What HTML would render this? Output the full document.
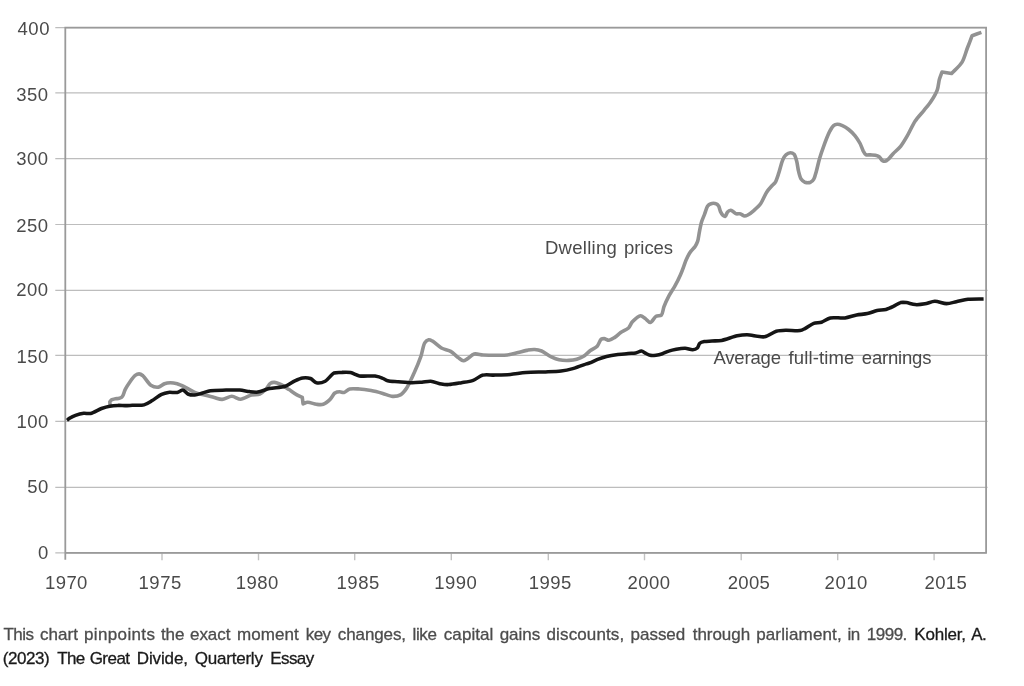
<!DOCTYPE html>
<html><head><meta charset="utf-8"><title>Chart</title>
<style>
html,body{margin:0;padding:0;background:#fff;}
body{width:1024px;height:686px;overflow:hidden;position:relative;font-family:"Liberation Sans",sans-serif;}
svg{position:absolute;left:0;top:0;will-change:transform;}
svg text{font-family:"Liberation Sans",sans-serif;}
.w{position:absolute;font-size:17px;line-height:24px;color:#4c4c4c;-webkit-text-stroke:0.3px #4c4c4c;white-space:nowrap;letter-spacing:0.22px;}
.caption{position:absolute;left:0;top:0;width:1024px;height:686px;margin:0;will-change:transform;}
.w.d{color:#1a1a1a;-webkit-text-stroke:0.3px #1a1a1a;letter-spacing:0.06px;}
</style></head><body>
<svg width="1024" height="686" viewBox="0 0 1024 686">
<line x1="55.3" x2="986" y1="27.7" y2="27.7" stroke="#bdbdbd" stroke-width="1.2"/>
<line x1="55.3" x2="987.6" y1="92.8" y2="92.8" stroke="#bdbdbd" stroke-width="1.2"/>
<line x1="55.3" x2="987.6" y1="158.6" y2="158.6" stroke="#bdbdbd" stroke-width="1.2"/>
<line x1="55.3" x2="987.6" y1="224.5" y2="224.5" stroke="#bdbdbd" stroke-width="1.2"/>
<line x1="55.3" x2="987.6" y1="290.3" y2="290.3" stroke="#bdbdbd" stroke-width="1.2"/>
<line x1="55.3" x2="987.6" y1="355.4" y2="355.4" stroke="#bdbdbd" stroke-width="1.2"/>
<line x1="55.3" x2="987.6" y1="421.4" y2="421.4" stroke="#bdbdbd" stroke-width="1.2"/>
<line x1="55.3" x2="987.6" y1="487.3" y2="487.3" stroke="#bdbdbd" stroke-width="1.2"/>
<line x1="55.3" x2="986" y1="552.8" y2="552.8" stroke="#bdbdbd" stroke-width="1.2"/>
<line x1="162" x2="162" y1="552.7" y2="560.3" stroke="#c2c2c2" stroke-width="1.4"/>
<line x1="258.5" x2="258.5" y1="552.7" y2="560.3" stroke="#c2c2c2" stroke-width="1.4"/>
<line x1="354.7" x2="354.7" y1="552.7" y2="560.3" stroke="#c2c2c2" stroke-width="1.4"/>
<line x1="451.3" x2="451.3" y1="552.7" y2="560.3" stroke="#c2c2c2" stroke-width="1.4"/>
<line x1="548.3" x2="548.3" y1="552.7" y2="560.3" stroke="#c2c2c2" stroke-width="1.4"/>
<line x1="644.5" x2="644.5" y1="552.7" y2="560.3" stroke="#c2c2c2" stroke-width="1.4"/>
<line x1="741.2" x2="741.2" y1="552.7" y2="560.3" stroke="#c2c2c2" stroke-width="1.4"/>
<line x1="837.7" x2="837.7" y1="552.7" y2="560.3" stroke="#c2c2c2" stroke-width="1.4"/>
<line x1="934.1" x2="934.1" y1="552.7" y2="560.3" stroke="#c2c2c2" stroke-width="1.4"/>
<path d="M65.3,559.8 L65.3,27.7 L986.1,27.7 L986.1,552.8 L65.3,552.8" fill="none" stroke="#9a9a9a" stroke-width="1.8" stroke-linejoin="miter"/>
<path transform="translate(0,0.5)" d="M110.3,405.5 C110.2,404.3 109.6,402.3 109.9,401.4 C110.1,400.6 111.2,399.8 111.7,399.2 C112.8,398.9 114.4,398.5 115.5,398.3 C116.6,398.1 118.4,398.0 119.3,397.7 C120.1,397.5 121.2,397.1 121.8,396.6 C122.3,396.1 122.8,395.3 123.2,394.5 C123.8,393.3 124.4,390.5 125.4,388.6 C127.1,385.4 132.8,376.8 135.2,374.9 C136.4,374.0 138.0,373.4 139.1,373.4 C140.2,373.4 141.8,374.4 143.0,375.3 C145.0,376.9 148.3,383.1 150.8,384.7 C152.8,386.0 156.6,386.9 158.6,386.6 C160.4,386.3 162.8,383.9 164.5,383.3 C166.1,382.7 168.7,382.3 170.4,382.3 C172.3,382.3 175.2,382.8 177.2,383.3 C179.4,383.9 182.7,385.5 185.0,386.6 C187.6,387.9 192.0,390.8 194.8,391.9 C197.5,393.0 201.7,393.8 204.5,394.5 C207.3,395.2 211.7,396.3 214.3,397.0 C216.6,397.6 219.8,399.0 222.1,398.9 C224.7,398.8 229.2,395.8 231.9,395.8 C234.5,395.8 238.1,398.9 240.7,398.8 C243.6,398.7 248.5,395.2 251.4,394.5 C253.9,393.9 257.7,394.4 259.8,393.6 C261.7,392.8 264.1,390.6 265.6,389.1 C267.2,387.5 269.0,383.6 270.5,382.7 C271.6,382.0 273.1,381.8 274.4,381.9 C276.1,382.0 279.3,383.3 281.3,384.2 C283.5,385.2 286.9,387.7 289.1,389.1 C291.3,390.6 294.8,393.2 296.9,394.4 C298.5,395.3 300.8,396.2 302.3,396.9 C302.5,398.7 302.9,401.6 303.1,403.4 C304.4,402.9 306.1,401.9 307.6,401.8 C309.7,401.7 314.1,403.5 316.4,403.8 C318.4,404.0 321.4,404.4 323.2,403.8 C325.3,403.1 328.4,400.5 330.1,398.9 C331.8,397.3 333.4,393.4 335.0,392.4 C336.2,391.6 338.5,391.3 339.8,391.3 C341.0,391.3 342.9,392.3 344.1,392.0 C345.6,391.7 347.7,389.0 349.6,388.5 C351.9,387.8 356.5,388.3 359.4,388.5 C362.6,388.7 367.8,389.5 371.1,390.1 C374.4,390.7 379.6,392.1 382.8,393.0 C385.7,393.8 390.0,395.8 392.6,395.9 C394.9,396.0 398.5,395.5 400.4,394.4 C402.4,393.3 404.7,390.4 406.3,388.1 C408.6,384.8 412.0,377.0 414.1,372.5 C416.2,367.9 419.3,360.4 420.9,355.9 C422.3,351.9 423.2,344.5 424.8,342.2 C425.7,340.8 427.5,339.5 428.7,339.3 C429.8,339.1 431.3,340.0 432.6,340.7 C434.7,341.8 438.8,346.0 441.4,347.5 C443.9,348.9 448.3,349.5 450.7,350.9 C453.2,352.3 456.6,356.0 458.6,357.4 C460.1,358.5 462.1,360.2 463.4,360.3 C464.5,360.4 466.1,359.1 467.3,358.4 C469.0,357.4 472.0,354.1 474.2,353.5 C476.4,352.9 480.2,354.3 483.0,354.5 C486.4,354.7 493.0,354.8 496.6,354.8 C499.8,354.8 504.4,354.9 507.4,354.5 C510.5,354.1 515.1,352.8 518.1,352.1 C520.9,351.4 525.4,350.0 527.9,349.6 C530.0,349.2 532.8,348.9 534.7,349.0 C536.7,349.1 539.6,349.7 541.6,350.5 C544.2,351.5 548.6,355.1 551.3,356.4 C553.6,357.5 556.7,358.8 559.1,359.3 C561.7,359.8 566.3,360.0 568.9,359.9 C571.2,359.8 574.6,359.4 576.7,358.8 C578.8,358.2 581.7,357.0 583.6,355.8 C585.6,354.5 588.4,351.5 590.4,350.0 C592.3,348.6 595.7,347.3 597.2,345.7 C598.7,344.1 599.8,339.8 601.1,338.8 C601.9,338.2 603.2,338.0 604.1,338.0 C605.3,338.1 607.6,339.9 609.0,339.8 C610.6,339.7 613.2,337.9 614.8,336.9 C616.5,335.8 618.9,333.3 620.7,332.0 C622.7,330.6 626.8,329.1 628.5,327.5 C630.0,326.0 630.9,322.9 632.4,321.3 C634.2,319.4 638.5,315.3 640.5,315.2 C642.0,315.1 644.0,317.2 645.4,318.1 C646.8,319.1 648.9,322.1 650.3,322.0 C651.9,321.9 654.3,316.8 656.1,315.8 C657.5,315.0 660.3,315.6 661.4,314.6 C662.8,313.3 663.0,308.8 663.9,306.4 C665.0,303.5 667.3,298.6 668.8,295.7 C670.3,292.8 673.1,288.8 674.7,285.9 C676.4,282.8 679.2,277.2 680.5,274.2 C681.6,271.8 682.8,268.5 683.6,266.3 C684.4,264.3 685.3,261.3 686.2,259.3 C687.2,257.0 689.2,253.1 690.6,251.1 C691.8,249.4 694.1,247.5 695.1,246.0 C696.0,244.6 697.0,242.6 697.6,240.9 C698.4,238.6 698.9,233.6 699.5,230.8 C700.0,228.2 700.7,224.3 701.4,221.9 C702.1,219.5 703.7,215.9 704.6,213.6 C705.5,211.3 706.7,206.8 707.8,205.4 C708.4,204.5 709.4,203.8 710.3,203.5 C711.5,203.0 714.8,202.8 716.0,203.2 C717.0,203.5 718.0,204.5 718.6,205.4 C719.4,206.6 719.8,209.7 720.5,211.1 C721.1,212.3 722.2,214.2 723.0,214.9 C723.6,215.4 724.7,216.1 725.2,215.9 C726.0,215.6 726.6,212.6 727.4,211.7 C728.1,210.9 729.7,209.8 730.6,209.8 C731.4,209.8 732.4,210.6 733.2,211.1 C734.1,211.6 735.3,213.0 736.3,213.3 C737.3,213.6 739.0,213.0 740.1,213.3 C741.4,213.6 743.4,215.4 744.6,215.5 C745.6,215.6 746.8,215.0 747.8,214.5 C749.3,213.7 752.4,211.3 754.1,209.8 C755.9,208.2 758.8,205.7 760.4,203.5 C762.4,200.7 764.9,194.2 766.8,191.4 C768.2,189.3 770.6,186.8 771.9,185.3 C772.9,184.1 774.4,183.2 775.3,181.8 C776.5,179.8 777.9,175.1 778.9,172.2 C780.0,168.9 781.5,162.2 782.7,159.5 C783.5,157.7 784.7,155.4 785.9,154.4 C786.9,153.5 789.1,152.3 790.3,152.3 C791.4,152.3 793.2,152.9 794.1,153.8 C795.2,155.0 796.1,158.6 796.7,160.8 C797.4,163.4 797.9,168.3 798.6,170.9 C799.2,173.3 800.0,177.0 801.1,178.6 C801.9,179.8 803.6,181.2 804.9,181.7 C806.3,182.2 809.3,182.2 810.6,181.7 C811.8,181.2 813.1,179.8 813.8,178.6 C814.8,177.0 815.6,173.4 816.3,170.9 C817.2,167.8 818.5,161.7 819.5,158.2 C820.5,154.9 822.0,150.3 823.3,146.8 C824.8,142.6 828.0,134.2 829.7,130.9 C830.8,128.8 832.2,126.2 833.5,125.2 C834.5,124.4 836.1,123.9 837.3,123.8 C838.6,123.7 840.9,124.5 842.4,125.1 C844.1,125.8 847.0,127.6 848.7,129.0 C850.6,130.5 853.5,133.4 855.1,135.4 C856.7,137.4 858.9,140.8 860.1,143.0 C861.2,145.1 862.4,148.9 863.3,150.6 C864.0,151.8 864.8,153.6 865.8,154.1 C866.8,154.7 869.0,154.3 870.3,154.4 C871.7,154.5 874.1,154.4 875.4,154.7 C876.6,155.0 878.2,155.6 879.2,156.3 C880.3,157.1 881.5,159.5 882.4,160.1 C883.1,160.5 884.2,160.9 884.9,160.8 C885.8,160.7 887.2,159.7 888.1,158.9 C889.4,157.8 891.5,154.9 893.1,153.2 C895.0,151.2 898.7,148.3 900.6,145.9 C902.7,143.3 905.5,138.5 907.4,135.2 C909.6,131.4 912.7,124.2 915.2,120.5 C917.5,117.1 921.7,112.7 924.0,109.8 C926.1,107.2 929.1,103.8 930.9,101.0 C932.9,98.0 936.1,92.6 937.3,89.3 C938.4,86.4 938.6,81.8 939.3,79.1 C939.9,76.8 941.2,73.7 942.0,71.5 C944.7,71.9 948.9,72.6 951.6,73.0 C954.6,69.8 959.9,65.2 962.1,61.6 C964.3,58.0 965.9,51.4 967.4,47.5 C968.8,43.9 970.8,38.7 972.1,35.2 C974.7,34.3 978.8,32.8 981.4,31.9" fill="none" stroke="#929292" stroke-width="3.6" stroke-linejoin="round" stroke-linecap="butt"/>
<path transform="translate(0,0.5)" d="M66.9,419.7 C67.6,419.2 68.6,418.4 69.5,417.8 C70.8,417.0 73.6,415.5 75.5,414.8 C77.6,414.0 81.5,413.0 83.7,412.8 C85.7,412.6 88.4,413.4 90.5,413.0 C93.3,412.4 98.6,409.1 101.5,408.0 C104.0,407.1 107.4,406.1 109.7,405.7 C112.0,405.3 115.7,405.0 117.9,404.9 C120.0,404.8 123.0,405.1 125.0,405.1 C127.1,405.1 130.0,404.9 132.3,404.8 C135.2,404.7 141.1,405.2 144.0,404.4 C146.5,403.7 149.5,401.7 151.8,400.3 C154.5,398.7 159.0,395.1 161.6,393.9 C163.6,393.0 166.3,392.2 168.4,391.9 C170.7,391.6 175.0,392.3 177.2,391.9 C179.1,391.5 181.5,389.4 183.0,389.6 C184.5,389.8 186.3,392.8 187.9,393.5 C189.6,394.2 192.8,394.6 194.8,394.5 C197.0,394.4 200.4,393.1 202.6,392.5 C204.8,391.9 207.8,390.6 210.4,390.2 C214.0,389.6 221.7,389.7 226.0,389.6 C230.0,389.5 236.2,389.3 239.7,389.6 C242.7,389.8 246.8,390.8 249.5,391.1 C251.9,391.4 255.3,391.9 257.8,391.6 C260.9,391.2 265.9,388.9 269.5,388.1 C273.6,387.2 281.4,387.1 285.2,385.8 C288.4,384.7 292.3,381.5 294.9,380.3 C297.2,379.2 300.5,377.7 302.7,377.4 C304.9,377.1 308.5,377.3 310.5,378.0 C312.4,378.7 314.5,381.9 316.4,382.3 C318.6,382.8 322.9,381.9 325.2,380.7 C327.9,379.3 331.4,373.7 334.0,372.5 C336.1,371.6 339.5,372.0 341.8,371.9 C344.2,371.8 348.1,371.6 350.6,372.1 C353.1,372.6 356.5,374.9 359.4,375.4 C363.1,376.1 371.4,375.1 375.0,375.6 C377.6,376.0 380.9,377.0 382.8,377.8 C384.4,378.4 386.0,379.8 387.7,380.3 C390.1,381.0 395.2,381.0 398.4,381.3 C402.0,381.6 408.5,382.3 412.1,382.3 C415.1,382.3 419.2,381.9 421.9,381.7 C424.5,381.5 428.1,380.5 430.7,380.7 C433.6,380.9 438.6,383.1 441.4,383.6 C443.7,384.0 446.4,384.2 448.8,384.1 C451.9,384.0 458.0,382.8 461.5,382.2 C464.9,381.6 470.1,380.9 473.2,379.8 C476.2,378.7 480.0,375.3 483.0,374.6 C486.1,373.8 491.1,374.7 494.7,374.6 C498.8,374.5 505.9,374.4 510.3,374.0 C514.7,373.6 521.2,372.4 525.9,372.0 C531.1,371.6 540.3,371.6 545.5,371.4 C550.2,371.2 557.0,371.0 561.1,370.5 C564.7,370.0 569.4,369.0 572.8,368.1 C576.6,367.1 583.9,364.3 586.5,363.4 C587.8,363.0 588.8,362.7 590.0,362.3 C591.8,361.6 595.3,359.8 597.6,358.9 C600.0,358.0 603.8,356.7 606.5,356.0 C609.5,355.3 614.8,354.5 617.9,354.1 C620.9,353.7 625.4,353.1 628.1,352.9 C630.4,352.7 633.7,352.9 635.7,352.5 C637.5,352.2 639.9,350.4 641.4,350.5 C642.8,350.6 644.6,352.3 645.9,352.9 C647.1,353.5 648.9,354.5 650.3,354.8 C651.8,355.1 654.3,354.9 656.0,354.7 C657.8,354.5 660.6,353.8 662.4,353.2 C664.2,352.6 666.8,351.2 668.7,350.6 C670.7,349.9 674.0,349.1 676.3,348.7 C678.7,348.3 682.8,347.7 685.2,347.8 C687.4,347.9 690.9,349.5 692.8,349.3 C694.3,349.2 696.3,348.4 697.3,347.5 C698.3,346.6 698.8,343.7 699.8,342.8 C700.8,341.9 702.8,341.4 704.3,341.1 C706.1,340.7 709.6,340.7 711.9,340.5 C714.5,340.3 718.6,340.4 721.6,339.9 C725.5,339.2 733.3,336.1 737.2,335.3 C740.3,334.7 743.8,334.3 747.0,334.3 C751.2,334.3 760.1,337.0 764.5,336.3 C768.3,335.7 773.0,331.7 776.3,330.8 C779.1,330.0 783.0,329.9 786.0,329.8 C789.6,329.7 797.1,330.6 800.0,330.1 C801.8,329.8 803.3,328.9 804.9,328.1 C807.1,327.0 811.2,323.8 813.7,322.9 C815.9,322.1 819.3,322.4 821.5,321.7 C824.0,320.9 827.4,318.1 830.3,317.4 C833.8,316.6 841.0,317.9 844.9,317.4 C848.4,317.0 853.3,315.1 856.6,314.5 C859.7,313.9 864.5,313.8 867.4,313.1 C870.3,312.5 874.4,310.6 877.1,310.0 C879.6,309.5 883.5,309.6 885.9,309.0 C888.2,308.4 891.7,306.7 893.8,305.7 C895.8,304.7 898.7,302.6 900.6,302.1 C902.3,301.7 904.6,301.9 906.4,302.1 C908.6,302.4 912.6,303.9 915.2,304.1 C917.9,304.3 922.2,303.8 925.0,303.3 C927.8,302.8 931.9,300.9 934.8,300.8 C938.0,300.7 943.3,303.1 946.5,303.1 C949.4,303.1 953.4,301.8 956.3,301.2 C959.5,300.6 964.4,299.2 968.0,298.8 C972.1,298.3 979.2,298.5 983.6,298.4" fill="none" stroke="#151515" stroke-width="3.55" stroke-linejoin="round" stroke-linecap="butt"/>
<text x="49.95" y="34.5" text-anchor="end" font-size="18.5" letter-spacing="0.5" fill="#4a4a4a">400</text>
<text x="48.65" y="100.6" text-anchor="end" font-size="18.5" letter-spacing="0.5" fill="#4a4a4a">350</text>
<text x="48.65" y="165.3" text-anchor="end" font-size="18.5" letter-spacing="0.5" fill="#4a4a4a">300</text>
<text x="48.65" y="232.0" text-anchor="end" font-size="18.5" letter-spacing="0.5" fill="#4a4a4a">250</text>
<text x="48.65" y="295.5" text-anchor="end" font-size="18.5" letter-spacing="0.5" fill="#4a4a4a">200</text>
<text x="48.75" y="363.0" text-anchor="end" font-size="18.5" letter-spacing="0.5" fill="#4a4a4a">150</text>
<text x="48.75" y="427.5" text-anchor="end" font-size="18.5" letter-spacing="0.5" fill="#4a4a4a">100</text>
<text x="48.75" y="493.4" text-anchor="end" font-size="18.5" letter-spacing="0.5" fill="#4a4a4a">50</text>
<text x="48.75" y="559.3" text-anchor="end" font-size="18.5" letter-spacing="0.5" fill="#4a4a4a">0</text>
<text x="45.0" y="588.9" font-size="18.5" textLength="42.4" lengthAdjust="spacing" fill="#4a4a4a">1970</text>
<text x="138.5" y="588.9" font-size="18.5" textLength="42.8" lengthAdjust="spacing" fill="#4a4a4a">1975</text>
<text x="235.7" y="588.9" font-size="18.5" textLength="42.6" lengthAdjust="spacing" fill="#4a4a4a">1980</text>
<text x="336.5" y="588.9" font-size="18.5" textLength="42.8" lengthAdjust="spacing" fill="#4a4a4a">1985</text>
<text x="434.3" y="588.9" font-size="18.5" textLength="42.6" lengthAdjust="spacing" fill="#4a4a4a">1990</text>
<text x="528.8" y="588.9" font-size="18.5" textLength="42.5" lengthAdjust="spacing" fill="#4a4a4a">1995</text>
<text x="627.5" y="588.9" font-size="18.5" textLength="42.5" lengthAdjust="spacing" fill="#4a4a4a">2000</text>
<text x="727.7" y="588.9" font-size="18.5" textLength="42.2" lengthAdjust="spacing" fill="#4a4a4a">2005</text>
<text x="824.6" y="588.9" font-size="18.5" textLength="42.7" lengthAdjust="spacing" fill="#4a4a4a">2010</text>
<text x="924.5" y="588.9" font-size="18.5" textLength="42.2" lengthAdjust="spacing" fill="#4a4a4a">2015</text>
<text x="544.90" y="253.6" font-size="18.5" letter-spacing="0.296" fill="#4a4a4a">Dwelling</text>
<text x="624.05" y="253.6" font-size="18.5" letter-spacing="-0.070" fill="#4a4a4a">prices</text>
<text x="713.40" y="363.75" font-size="18.5" letter-spacing="-0.164" fill="#4a4a4a">Average</text>
<text x="788.40" y="363.75" font-size="18.5" letter-spacing="0.154" fill="#4a4a4a">full-time</text>
<text x="861.80" y="363.75" font-size="18.5" letter-spacing="-0.188" fill="#4a4a4a">earnings</text>
</svg>
<p class="caption">
<span class="w" style="left:3.40px;top:622.5px;letter-spacing:-0.522px">This</span>
<span class="w" style="left:40.05px;top:622.5px;letter-spacing:0.020px">chart</span>
<span class="w" style="left:84.05px;top:622.5px;letter-spacing:0.356px">pinpoints</span>
<span class="w" style="left:160.90px;top:622.5px;letter-spacing:-0.089px">the</span>
<span class="w" style="left:190.05px;top:622.5px;letter-spacing:-0.065px">exact</span>
<span class="w" style="left:237.05px;top:622.5px;letter-spacing:0.073px">moment</span>
<span class="w" style="left:305.80px;top:622.5px;letter-spacing:-0.600px">key</span>
<span class="w" style="left:337.80px;top:622.5px;letter-spacing:-0.110px">changes,</span>
<span class="w" style="left:412.40px;top:622.5px;letter-spacing:-0.285px">like</span>
<span class="w" style="left:443.80px;top:622.5px;letter-spacing:0.073px">capital</span>
<span class="w" style="left:499.70px;top:622.5px;letter-spacing:-0.035px">gains</span>
<span class="w" style="left:546.55px;top:622.5px;letter-spacing:0.120px">discounts,</span>
<span class="w" style="left:630.55px;top:622.5px;letter-spacing:-0.023px">passed</span>
<span class="w" style="left:692.70px;top:622.5px;letter-spacing:-0.034px">through</span>
<span class="w" style="left:756.20px;top:622.5px;letter-spacing:0.138px">parliament,</span>
<span class="w" style="left:847.40px;top:622.5px;letter-spacing:-0.477px">in</span>
<span class="w" style="left:866.80px;top:622.5px;letter-spacing:-0.505px">1999.</span>
<span class="w d" style="left:914.30px;top:622.5px;letter-spacing:-0.200px">Kohler,</span>
<span class="w d" style="left:971.30px;top:622.5px;letter-spacing:-0.600px">A.</span>
<span class="w d" style="left:2.80px;top:646.5px;letter-spacing:-0.436px">(2023)</span>
<span class="w d" style="left:57.20px;top:646.5px;letter-spacing:-0.600px">The</span>
<span class="w d" style="left:89.70px;top:646.5px;letter-spacing:-0.548px">Great</span>
<span class="w d" style="left:136.80px;top:646.5px;letter-spacing:-0.140px">Divide,</span>
<span class="w d" style="left:194.70px;top:646.5px;letter-spacing:-0.207px">Quarterly</span>
<span class="w d" style="left:270.30px;top:646.5px;letter-spacing:-0.598px">Essay</span>
</p>
</body></html>
